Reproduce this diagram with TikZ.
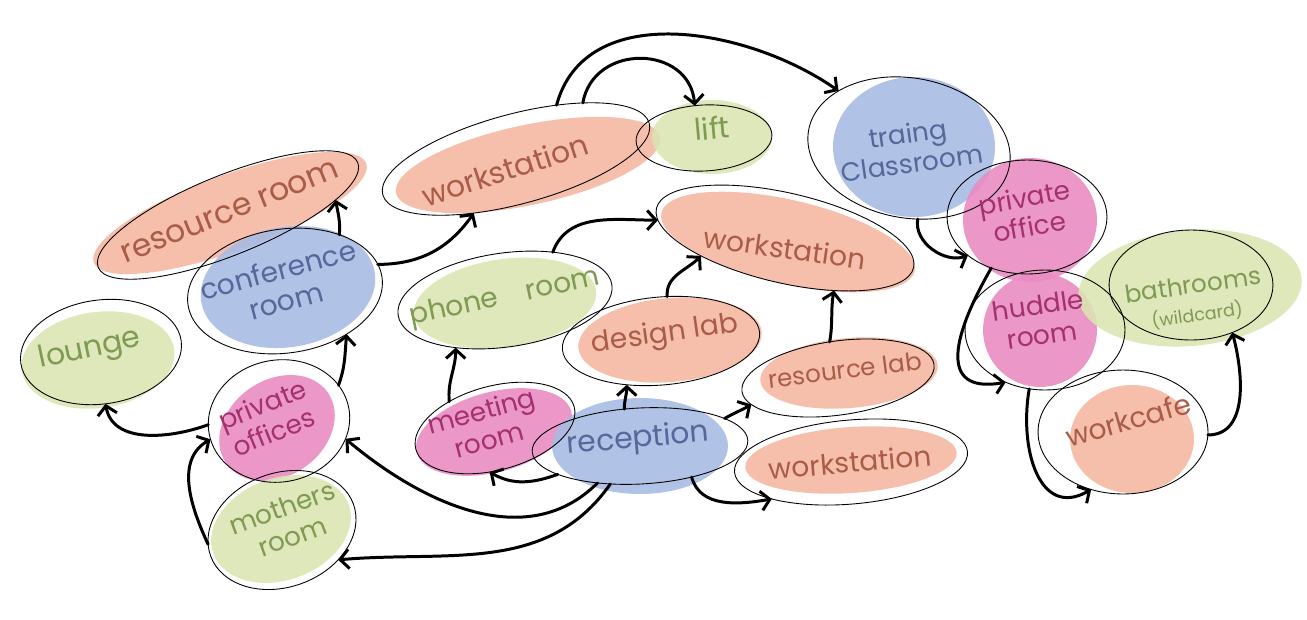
\documentclass[tikz,border=0pt]{standalone}
\usepackage{fontspec}
\setmainfont{Poppins}
\usetikzlibrary{shapes.geometric,arrows.meta}
\definecolor{salF}{HTML}{F4B8A2}
\definecolor{salT}{HTML}{A95C48}
\definecolor{bluF}{HTML}{A7BBE2}
\definecolor{bluT}{HTML}{56689A}
\definecolor{grnF}{HTML}{DAE5B2}
\definecolor{grnT}{HTML}{7F9A52}
\definecolor{pnkF}{HTML}{E98CC2}
\definecolor{pnkT}{HTML}{A5306F}
\begin{document}
\begin{tikzpicture}[x=0.02cm,y=0.02cm,
  blob/.style={ellipse,inner sep=0pt,outer sep=0pt,fill opacity=0.9},
  ring/.style={ellipse,draw=black,line width=0.5pt,inner sep=0pt,outer sep=0pt},
  sz/.style 2 args={minimum width=#1*0.04cm,minimum height=#2*0.04cm},
  lbl/.style={align=center,inner sep=0pt},
  fs/.style 2 args={font=\fontsize{#1}{#2}\selectfont},
  conn/.style={line width=1.7pt,-{Straight Barb[length=5pt,width=11pt]},line cap=round}]
\useasboundingbox (0,0) rectangle (1307,-619);
% ---- fills
\node[blob,fill=salF,sz={145}{38},rotate=20] (b-rr) at (230,-213) {};
\node[blob,fill=bluF,sz={88}{60},rotate=10] (b-conf) at (288,-287) {};
\node[blob,fill=grnF,sz={77}{48},rotate=8] (b-lng) at (98,-360) {};
\node[blob,fill=pnkF,sz={62}{48},rotate=35] (b-po) at (277,-428) {};
\node[blob,fill=grnF,sz={72}{51},rotate=20] (b-mr) at (281,-529) {};
\node[blob,fill=salF,sz={135}{40},rotate=12] (b-wst) at (528,-165) {};
\node[blob,fill=grnF,sz={60}{37},rotate=0] (b-lift) at (712,-137) {};
\node[blob,fill=salF,sz={130}{42},rotate=-13] (b-wsm) at (788,-242) {};
\node[blob,fill=grnF,sz={92}{44},rotate=8] (b-phone) at (505,-303) {};
\node[blob,fill=salF,sz={92}{42},rotate=5] (b-dl) at (670,-340) {};
\node[blob,fill=pnkF,sz={80}{40},rotate=15] (b-mtg) at (494,-432) {};
\node[blob,fill=bluF,sz={88}{48},rotate=0] (b-rec) at (640,-446) {};
\node[blob,fill=salF,sz={89}{35},rotate=5] (b-rl) at (849,-373) {};
\node[blob,fill=salF,sz={106}{33},rotate=4] (b-wsb) at (851,-460) {};
\node[blob,fill=bluF,sz={81}{70},rotate=0] (b-cls) at (914,-147) {};
\node[blob,fill=pnkF,sz={67}{62},rotate=0] (b-pof) at (1030,-220) {};
\node[blob,fill=pnkF,sz={57}{57},rotate=0] (b-hud) at (1040,-330) {};
\node[blob,fill=grnF,sz={112}{58},rotate=5] (b-bath) at (1190,-288) {};
\node[blob,fill=salF,sz={62}{54},rotate=0] (b-cafe) at (1132,-439) {};
% ---- outlines
\node[ring,sz={140}{40},rotate=22] (rr) at (228,-215) {};
\node[ring,sz={98}{62},rotate=8] (conf) at (285,-291) {};
\node[ring,sz={81}{52},rotate=8] (lng) at (101,-352) {};
\node[ring,sz={71}{61},rotate=10] (po) at (279,-421) {};
\node[ring,sz={76}{57},rotate=20] (mr) at (282,-530) {};
\node[ring,sz={138}{45},rotate=15] (wst) at (516,-159) {};
\node[ring,sz={68}{33},rotate=3] (lift) at (704,-138) {};
\node[ring,sz={132}{45},rotate=-13] (wsm) at (785,-238) {};
\node[ring,sz={108}{47},rotate=8] (phone) at (505,-300) {};
\node[ring,sz={99}{44},rotate=5] (dl) at (661,-341) {};
\node[ring,sz={82}{42},rotate=15] (mtg) at (495,-428) {};
\node[ring,sz={108}{38},rotate=3] (rec) at (640,-446) {};
\node[ring,sz={97}{37},rotate=8] (rl) at (838,-378) {};
\node[ring,sz={117}{42},rotate=5] (wsb) at (851,-462) {};
\node[ring,sz={102}{70},rotate=-10] (cls) at (909,-148) {};
\node[ring,sz={80}{57},rotate=0] (pof) at (1027,-217) {};
\node[ring,sz={80}{60},rotate=0] (hud) at (1045,-330) {};
\node[ring,sz={82}{55},rotate=0] (bath) at (1191,-285) {};
\node[ring,sz={85}{62},rotate=0] (cafe) at (1123,-432) {};
% ---- labels
\node[lbl,text=salT,fs={18}{20},rotate=22] (t-rr) at (230,-212) {resource room};
\node[lbl,text=bluT,fs={16}{18},rotate=15] (t-conf) at (282,-285) {conference\\room};
\node[lbl,text=grnT,fs={17}{19},rotate=12] (t-lng) at (90,-350) {lounge};
\node[lbl,text=pnkT,fs={15}{17},rotate=22] (t-po) at (268,-418) {private\\offices};
\node[lbl,text=grnT,fs={15}{17},rotate=20] (t-mr) at (287,-522) {mothers\\room};
\node[lbl,text=salT,fs={17}{19},rotate=18] (t-wst) at (505,-170) {workstation};
\node[lbl,text=grnT,fs={17}{19},rotate=5] (t-lift) at (712,-128) {lift};
\node[lbl,text=salT,fs={16}{18},rotate=-8] (t-wsm) at (785,-248) {workstation};
\node[lbl,text=grnT,fs={16}{18},rotate=12] (t-phone) at (505,-298) {phone\quad room};
\node[lbl,text=salT,fs={16}{18},rotate=8] (t-dl) at (665,-335) {design lab};
\node[lbl,text=pnkT,fs={15}{17},rotate=15] (t-mtg) at (485,-425) {meeting\\room};
\node[lbl,text=bluT,fs={17}{19},rotate=5] (t-rec) at (638,-440) {reception};
\node[lbl,text=salT,fs={14}{16},rotate=7] (t-rl) at (845,-370) {resource lab};
\node[lbl,text=salT,fs={16}{18},rotate=5] (t-wsb) at (850,-462) {workstation};
\node[lbl,text=bluT,fs={15}{17},rotate=8] (t-cls) at (910,-148) {traing\\Classroom};
\node[lbl,text=pnkT,fs={15}{17},rotate=10] (t-pof) at (1027,-212) {private\\office};
\node[lbl,text=pnkT,fs={15}{17},rotate=8] (t-hud) at (1040,-320) {huddle\\room};
\node[lbl,text=grnT,fs={14}{16},rotate=8] (t-bath) at (1195,-300) {bathrooms\\{\fontsize{10}{11}\selectfont (wildcard)}};
\node[lbl,text=salT,fs={16}{18},rotate=16] (t-cafe) at (1128,-420) {workcafe};
% ---- connectors
\draw[conn] (conf.38) to[out=85,in=-80] (rr.346);
\draw[conn] (conf.8) to[out=0,in=235] (wst.217);
\draw[conn] (po.21) to[out=70,in=-95] (conf.317);
\draw[conn] (po.173) to[out=200,in=-80] (lng.267);
\draw[conn] (mr.171) to[out=115,in=210] (po.185);
\draw[conn] (rec.218) to[out=-135,in=-40] (po.335);
\draw[conn] (rec.229) to[out=-125,in=5] (mr.312);
\draw[conn] (rec.196) to[out=200,in=-30] (mtg.248);
\draw[conn] (mtg.135) to[out=95,in=-90] (phone.216);
\draw[conn] (rec.110) to[out=90,in=-90] (dl.227);
\draw[conn] (dl.77) to[out=95,in=225] (wsm.205);
\draw[conn] (phone.37) to[out=70,in=180] (wsm.185);
\draw[conn] (rec.15) to[out=30,in=210] (rl.189);
\draw[conn] (rec.326) to[out=-75,in=190] (wsb.200);
\draw[conn] (rl.95) to[out=80,in=-100] (wsm.326);
\draw[conn] (wst.25) to[out=80,in=95,looseness=1.4] (lift.103);
\draw[conn] (wst.38) to[out=75,in=145] (cls.151);
\draw[conn] (cls.287) to[out=-100,in=200] (pof.213);
\draw[conn] (pof.235) to[out=240,in=190,looseness=1.6] (hud.233);
\draw[conn] (hud.255) to[out=-100,in=210,looseness=1.3] (cafe.241);
\draw[conn] (cafe.358) to[out=0,in=-75] (bath.311);
\end{tikzpicture}
\end{document}
